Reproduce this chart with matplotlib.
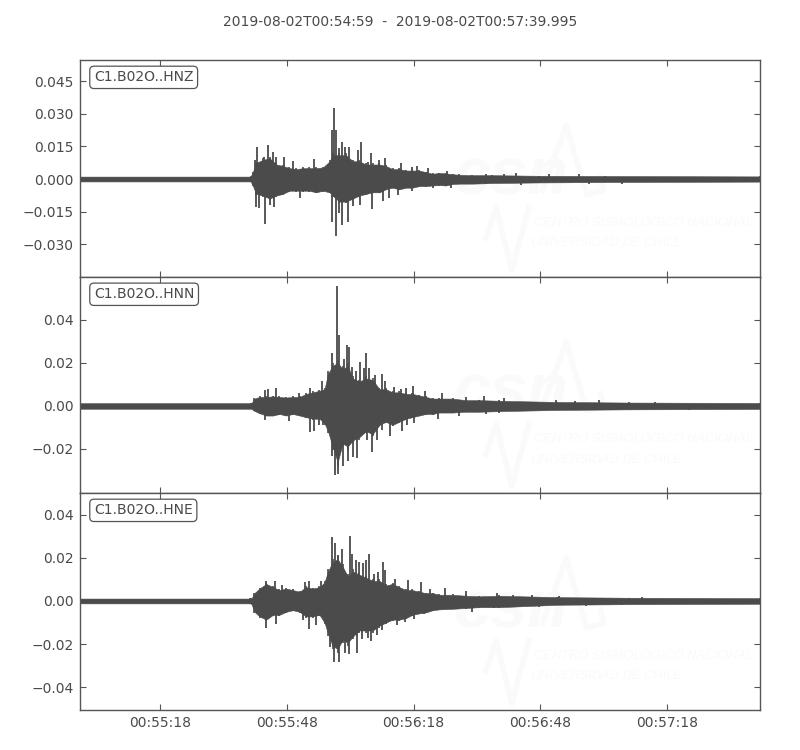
import matplotlib
matplotlib.use("Agg")
import matplotlib.pyplot as plt

TITLE = "2019-08-02T00:54:59  -  2019-08-02T00:57:39.995"
TICK_SECONDS = [19, 49, 79, 109, 139]
TICK_LABELS = ["00:55:18", "00:55:48", "00:56:18", "00:56:48", "00:57:18"]
DURATION = 160.995
CHANNELS = ["C1.B02O..HNZ", "C1.B02O..HNN", "C1.B02O..HNE"]

# ---- HNZ ----
Z_T = [0, 40.4, 40.9, 41.7, 43.3, 44.9, 46.5, 48.0, 49.6, 51.2, 52.8, 54.3, 55.9, 57.5, 59.1, 59.8, 61.4, 63.0,
       64.6, 66.1, 67.7, 69.3, 70.9, 72.4, 74.0, 75.6, 77.2, 78.7, 80.3, 81.9, 83.5, 85.0, 86.6, 88.2, 89.8,
       92.9, 97.6, 108.7, 124.4, 160.995]
Z_UP = [.0012, .0012, .0034, .0080, .0095, .0103, .0072, .0065, .0054, .0049, .0054, .0054, .0054, .0057, .0088, .0118,
        .0118, .0118, .0088, .0088, .0072, .0072, .0072, .0065, .0049, .0049, .0042, .0042, .0042, .0034, .0026, .0030,
        .0028, .0024, .0021, .0019, .0019, .0016, .0015, .0013]
Z_LOW = [-.0012, -.0012, -.0032, -.0074, -.0082, -.0097, -.0082, -.0074, -.0058, -.0058, -.0058, -.0058, -.0066, -.0058,
         -.0066, -.0082, -.0112, -.0112, -.0097, -.0082, -.0074, -.0066, -.0066, -.0051, -.0043, -.0051, -.0043, -.0043,
         -.0035, -.0035, -.0032, -.0030, -.0032, -.0025, -.0023, -.0023, -.0020, -.0017, -.0015, -.0013]
Z_PEAK_T = [41.5, 42.0, 43.5, 44.6, 45.7, 46.3, 48.4, 50.4, 55.5, 59.6, 60.2, 60.6, 61.4, 62.1, 62.8, 63.8, 65.9, 66.5,
            68.1, 69.0, 70.7, 72.2, 76.0, 78.6, 79.8, 82.5, 86.8, 96.1, 100.4, 103.2, 111.0, 118.1]
Z_PEAK = [.0088, .0149, .0103, .0158, .0126, .0103, .0100, .0083, .0091, .0226, .0326, .0226, .0145, .0172, .0149, .0149,
          .0134, .0172, .0080, .0118, .0088, .0098, .0075, .0057, .0062, .0052, .0038, .0022, .0025, .0029, .0022, .0022]
Z_TROUGH_T = [41.7, 42.3, 43.7, 44.9, 45.9, 52.2, 59.6, 60.6, 61.3, 62.1, 63.5, 64.6, 66.3, 69.1, 71.7, 73.2, 75.2, 78.7,
              83.5, 87.8, 96.1, 104.3, 120.5, 128.4]
Z_TROUGH = [-.0128, -.0135, -.0209, -.0120, -.0131, -.0086, -.0200, -.0265, -.0158, -.0212, -.0197, -.0123, -.0120,
            -.0138, -.0102, -.0089, -.0074, -.0054, -.0043, -.0042, -.0025, -.0029, -.0022, -.0022]

# ---- HNN ----
N_T = [0, 40.6, 41.3, 42.5, 44.1, 45.7, 47.2, 48.8, 50.4, 52.0, 53.5, 55.1, 56.7, 57.9, 58.7, 59.8, 61.0, 62.2, 63.4,
       64.6, 66.1, 67.7, 69.3, 70.9, 72.4, 74.0, 75.6, 77.2, 78.7, 80.3, 81.9, 83.5, 85.0, 88.2, 91.3, 94.5, 99.2,
       113.0, 130.0, 160.995]
N_UP = [.0014, .0014, .0037, .0045, .0045, .0048, .0045, .0042, .0045, .0045, .0060, .0068, .0076, .0084, .0161, .0200,
        .0216, .0184, .0200, .0138, .0122, .0138, .0130, .0084, .0084, .0068, .0068, .0060, .0060, .0053, .0045, .0037,
        .0037, .0037, .0029, .0029, .0026, .0020, .0017, .0015]
N_LOW = [-.0014, -.0014, -.0025, -.0036, -.0048, -.0048, -.0040, -.0048, -.0040, -.0048, -.0056, -.0064, -.0064, -.0087,
         -.0126, -.0203, -.0281, -.0188, -.0203, -.0172, -.0157, -.0126, -.0141, -.0095, -.0079, -.0095, -.0079, -.0064,
         -.0056, -.0048, -.0040, -.0040, -.0033, -.0033, -.0029, -.0029, -.0026, -.0020, -.0017, -.0015]
N_PEAK_T = [43.7, 44.5, 46.3, 51.8, 54.5, 57.3, 59.7, 60.8, 61.3, 62.4, 63.2, 63.7, 64.3, 65.4, 66.3, 67.3, 67.8, 68.4,
            69.9, 71.5, 72.3, 74.4, 76.1, 77.2, 78.8, 81.7, 85.7, 91.3, 95.7, 100.4, 112.6, 117.3, 122.8, 136.2]
N_PEAK = [.0076, .0079, .0082, .0060, .0084, .0115, .0247, .0557, .0332, .0219, .0285, .0274, .0181, .0161, .0203, .0177,
          .0247, .0177, .0146, .0149, .0115, .0088, .0079, .0084, .0095, .0071, .0060, .0042, .0047, .0036, .0028, .0023,
          .0026, .0020]
N_TROUGH_T = [43.8, 49.6, 54.5, 55.5, 56.7, 57.6, 59.6, 60.4, 61.0, 62.2, 63.5, 64.6, 65.5, 67.9, 69.1, 70.2, 71.5, 73.5,
              76.2, 77.4, 79.1, 84.8, 89.8, 96.1, 99.2, 122.1, 144.1]
N_TROUGH = [-.0067, -.0071, -.0121, -.0115, -.0087, -.0090, -.0234, -.0319, -.0316, -.0281, -.0257, -.0239, -.0243,
            -.0157, -.0214, -.0157, -.0113, -.0141, -.0115, -.0087, -.0079, -.0060, -.0048, -.0036, -.0033, -.0020, -.0019]

# ---- HNE ----
E_T = [0, 40.2, 40.6, 41.3, 42.5, 44.1, 45.7, 47.2, 48.8, 50.4, 52.0, 53.5, 55.1, 56.7, 57.9, 58.7, 59.8, 61.0, 62.2,
       63.4, 64.6, 66.1, 67.7, 69.3, 70.9, 72.4, 74.0, 75.6, 77.2, 78.7, 80.3, 81.9, 83.5, 85.0, 88.2, 91.3, 94.5, 99.2,
       113.0, 130.0, 160.995]
E_UP = [.0012, .0012, .0012, .0039, .0062, .0085, .0069, .0054, .0062, .0054, .0046, .0069, .0062, .0069, .0093, .0147,
        .0193, .0208, .0170, .0123, .0147, .0131, .0116, .0100, .0100, .0077, .0085, .0069, .0054, .0054, .0046, .0039,
        .0039, .0031, .0031, .0026, .0023, .0026, .0019, .0016, .0014]
E_LOW = [-.0012, -.0012, -.0015, -.0054, -.0077, -.0093, -.0069, -.0069, -.0054, -.0046, -.0054, -.0077, -.0077, -.0069,
         -.0108, -.0162, -.0224, -.0239, -.0193, -.0208, -.0177, -.0147, -.0147, -.0147, -.0123, -.0108, -.0093, -.0093,
         -.0085, -.0069, -.0062, -.0057, -.0046, -.0042, -.0039, -.0035, -.0031, -.0031, -.0019, -.0016, -.0014]
E_PEAK_T = [44.0, 46.1, 47.9, 53.3, 54.3, 57.1, 59.6, 60.4, 61.2, 62.0, 64.0, 64.5, 65.4, 66.0, 67.1, 67.7, 68.5, 69.5,
            70.5, 71.7, 72.3, 74.6, 77.7, 80.7, 82.9, 86.4, 91.3, 98.8, 102.4, 107.1, 113.4, 133.1]
E_PEAK = [.0093, .0093, .0073, .0088, .0093, .0093, .0296, .0270, .0213, .0239, .0301, .0219, .0188, .0182, .0174, .0188,
          .0219, .0123, .0136, .0181, .0144, .0103, .0097, .0090, .0054, .0062, .0046, .0037, .0028, .0029, .0022, .0017]
E_TROUGH_T = [44.0, 46.3, 52.8, 54.3, 55.8, 59.1, 60.2, 61.3, 62.7, 63.8, 65.5, 66.8, 68.1, 69.0, 70.2, 71.5, 75.0, 76.9,
              79.0, 81.5, 92.9, 98.0, 108.7, 119.7, 128.4]
E_TROUGH = [-.0125, -.0105, -.0088, -.0128, -.0111, -.0211, -.0281, -.0282, -.0239, -.0244, -.0239, -.0177, -.0173,
            -.0185, -.0157, -.0134, -.0111, -.0097, -.0082, -.0062, -.0051, -.0032, -.0028, -.0022, -.0017]

YLIMS = [(-0.0452, 0.0549), (-0.0405, 0.0600), (-0.0505, 0.0500)]
YTICKS = [[-0.030, -0.015, 0.0, 0.015, 0.030, 0.045],
          [-0.02, 0.0, 0.02, 0.04],
          [-0.04, -0.02, 0.0, 0.02, 0.04]]
YFMT = ["%.3f", "%.2f", "%.2f"]
SERIES = [(Z_T, Z_UP, Z_LOW, Z_PEAK_T, Z_PEAK, Z_TROUGH_T, Z_TROUGH),
          (N_T, N_UP, N_LOW, N_PEAK_T, N_PEAK, N_TROUGH_T, N_TROUGH),
          (E_T, E_UP, E_LOW, E_PEAK_T, E_PEAK, E_TROUGH_T, E_TROUGH)]

WAVE = "#4b4b4b"
TEXT = "#4a4a4a"
EDGE = "#555555"
MARK = "#fafafa"
MARK_FONT = "Liberation Sans"

plt.rcParams["font.family"] = "DejaVu Sans"
plt.rcParams["font.size"] = 10
fig = plt.figure(figsize=(8, 7.5), dpi=100, facecolor="white")
fig.text(0.5, 0.9705, TITLE, ha="center", va="center", color=TEXT, fontsize=10)

W, H = 800.0, 750.0
edges = [(60, 277), (277, 493), (493, 710)]
L, R = 80, 760
BODY_FRACTION = 0.93


def watermark(ax):
    tf = ax.transAxes
    ax.text(0.55, 0.46, "csn", transform=tf, color=MARK, fontsize=48, fontweight="bold",
            style="italic", family=MARK_FONT, ha="left", va="center", zorder=0)
    ax.text(0.667, 0.248, "CENTRO SISMOLÓGICO NACIONAL", transform=tf, color=MARK, fontsize=9.3,
            style="italic", family=MARK_FONT, ha="left", va="center", zorder=0)
    ax.text(0.663, 0.155, "UNIVERSIDAD DE CHILE", transform=tf, color=MARK, fontsize=9.3,
            style="italic", family=MARK_FONT, ha="left", va="center", zorder=0)
    ax.plot([0.68, 0.715, 0.745, 0.77, 0.765], [0.40, 0.70, 0.38, 0.40, 0.46], transform=tf,
            color=MARK, lw=4, zorder=0)
    ax.plot([0.597, 0.612, 0.635, 0.66], [0.18, 0.32, 0.03, 0.32], transform=tf,
            color=MARK, lw=4, zorder=0)


for i, (top, bottom) in enumerate(edges):
    ax = fig.add_axes([L / W, 1 - bottom / H, (R - L) / W, (bottom - top) / H])
    t, up, low, pt, pv, tt, tv = SERIES[i]
    watermark(ax)
    ax.fill_between(t, [v * BODY_FRACTION for v in low], [v * BODY_FRACTION for v in up],
                    color=WAVE, lw=0.4, zorder=2)
    ax.vlines(t, low, up, color=WAVE, lw=1.2, zorder=2)
    ax.vlines(pt, 0, pv, color=WAVE, lw=1.3, zorder=3)
    ax.vlines(tt, tv, 0, color=WAVE, lw=1.3, zorder=3)
    ax.set_xlim(0, DURATION)
    ax.set_ylim(*YLIMS[i])
    ax.set_xticks(TICK_SECONDS)
    ax.set_xticklabels(TICK_LABELS if i == 2 else [])
    ax.set_yticks(YTICKS[i])
    ax.set_yticklabels([(YFMT[i] % v).replace("-", "\u2212") for v in YTICKS[i]])
    ax.tick_params(direction="in", top=True, right=True, length=4, width=0.8, color=EDGE,
                   labelcolor=TEXT, labelsize=10, pad=4.5)
    for s in ax.spines.values():
        s.set_color(EDGE)
        s.set_linewidth(1.0)
    ax.text(0.0205, 0.92, CHANNELS[i], transform=ax.transAxes, color=TEXT, fontsize=10,
            ha="left", va="center", zorder=5,
            bbox=dict(boxstyle="round,pad=0.3", facecolor="white", edgecolor=EDGE, linewidth=0.9))

fig.savefig("out.png", dpi=100, facecolor="white")
